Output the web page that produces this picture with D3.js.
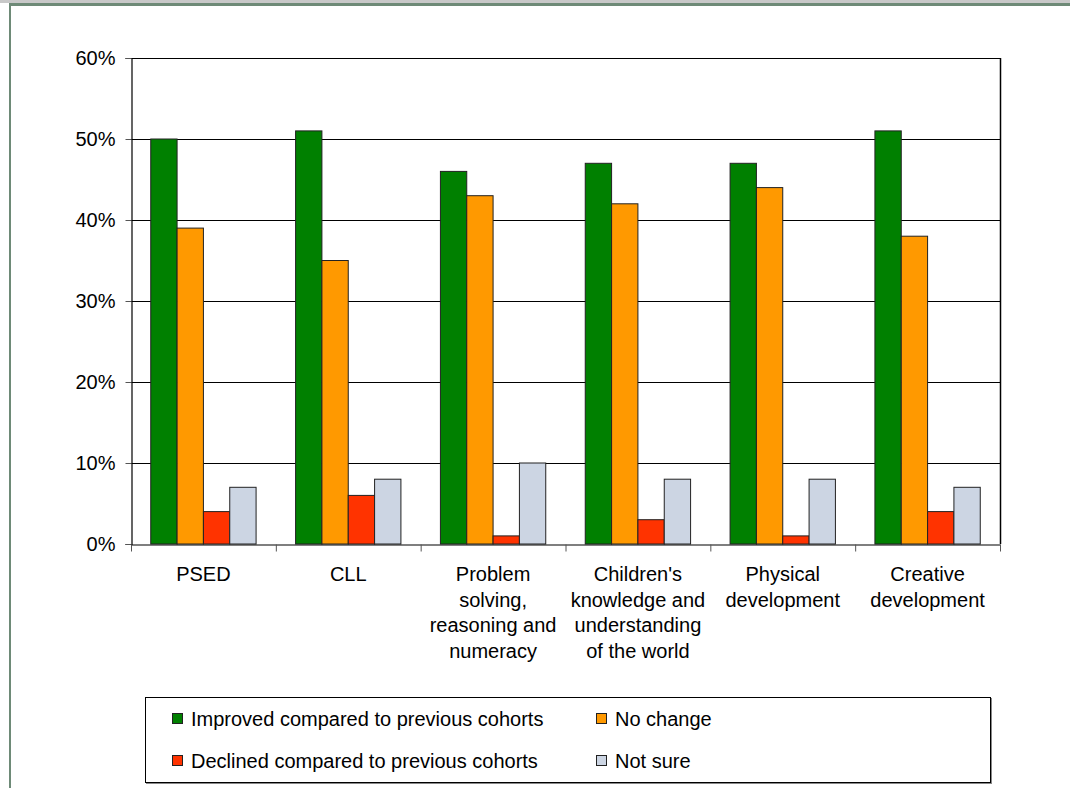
<!DOCTYPE html>
<html>
<head>
<meta charset="utf-8">
<script src="https://cdn.jsdelivr.net/npm/d3@7/dist/d3.min.js"></script>
<style>
  html, body { margin: 0; padding: 0; background: #fff; }
  svg { display: block; font-family: "Liberation Sans", Arial, sans-serif; }
</style>
</head>
<body>
<svg id="chart" width="1070" height="788"></svg>
<script>
// Areas of learning (x axis), each label split into lines
const categories = [
  ["PSED"],
  ["CLL"],
  ["Problem", "solving,", "reasoning and", "numeracy"],
  ["Children's", "knowledge and", "understanding", "of the world"],
  ["Physical", "development"],
  ["Creative", "development"]
];
const seriesNames = [
  "Improved compared to previous cohorts",
  "No change",
  "Declined compared to previous cohorts",
  "Not sure"
];
const improved = [50, 51, 46, 47, 47, 51];
const noChange = [39, 35, 43, 42, 44, 38];
const declined = [4, 6, 1, 3, 1, 4];
const notSure  = [7, 8, 10, 8, 8, 7];
const yTicks = [0, 10, 20, 30, 40, 50, 60];
const colors = ["#008000", "#FF9900", "#FF3300", "#CCD5E3"];

const series = [improved, noChange, declined, notSure];
const FONT = 20;

const svg = d3.select("#chart");

// page frame
svg.append("rect").attr("x", 0).attr("y", 0).attr("width", 1070).attr("height", 3).attr("fill", "#C8C8C8");
svg.append("rect").attr("x", 9).attr("y", 3).attr("width", 1061).attr("height", 3).attr("fill", "#6E8A77");
svg.append("rect").attr("x", 9).attr("y", 3).attr("width", 2).attr("height", 785).attr("fill", "#6E8A77");

const plot = { left: 131, top: 58, right: 1000, bottom: 544 };

const x0 = d3.scaleBand()
  .domain(d3.range(categories.length))
  .range([plot.left, plot.right])
  .paddingInner(0).paddingOuter(0);

const bw = x0.bandwidth() / 5.5;          // gap width 150% of a bar
const x1 = d3.scaleBand()
  .domain(d3.range(series.length))
  .range([0.75 * bw, 0.75 * bw + 4 * bw]);

const y = d3.scaleLinear().domain([0, 60]).range([plot.bottom, plot.top]);

// gridlines
svg.append("g").selectAll("line")
  .data(yTicks.filter(t => t > 0))
  .join("line")
  .attr("x1", plot.left).attr("x2", plot.right)
  .attr("y1", d => Math.round(y(d)) + 0.5).attr("y2", d => Math.round(y(d)) + 0.5)
  .attr("stroke", "#000").attr("stroke-width", 1);

// plot area border (right side)
svg.append("line")
  .attr("x1", plot.right + 0.5).attr("x2", plot.right + 0.5)
  .attr("y1", plot.top).attr("y2", plot.bottom)
  .attr("stroke", "#000").attr("stroke-width", 1.5);

// bars
const groups = svg.append("g").selectAll("g")
  .data(categories.map((c, i) => i))
  .join("g")
  .attr("transform", i => `translate(${x0(i)},0)`);

groups.selectAll("rect")
  .data(i => series.map((s, k) => ({ k, v: s[i] })))
  .join("rect")
  .attr("x", d => x1(d.k))
  .attr("width", x1.bandwidth())
  .attr("y", d => y(d.v))
  .attr("height", d => y(0) - y(d.v))
  .attr("fill", d => colors[d.k])
  .attr("stroke", "#222")
  .attr("stroke-width", 1);

// y axis
const yAxis = d3.axisLeft(y)
  .tickValues(yTicks)
  .tickFormat(d => d + "%")
  .tickSize(6)
  .tickPadding(10);
const gy = svg.append("g")
  .attr("transform", `translate(${plot.left + 0.5},0)`)
  .call(yAxis);
gy.attr("font-size", FONT).attr("font-family", "Liberation Sans, Arial, sans-serif");
gy.select(".domain").attr("stroke", "#000").attr("stroke-width", 1.2);
gy.selectAll(".tick line").attr("stroke", "#555");
gy.selectAll(".tick text").attr("font-size", FONT).attr("fill", "#000");

// x axis
const xEdges = d3.scaleLinear().domain([0, categories.length]).range([plot.left, plot.right]);
const xAxis = d3.axisBottom(xEdges)
  .tickValues(d3.range(categories.length + 1))
  .tickFormat("")
  .tickSize(7)
  .tickSizeOuter(0);
const gx = svg.append("g")
  .attr("transform", `translate(0,${plot.bottom + 0.5})`)
  .call(xAxis);
gx.select(".domain").attr("stroke", "#000").attr("stroke-width", 1.2);
gx.selectAll(".tick line").attr("stroke", "#555");

// category labels
const catLabels = svg.append("g").selectAll("text")
  .data(categories.map((c, i) => ({ c, i })))
  .join("text")
  .attr("x", d => x0(d.i) + x0.bandwidth() / 2)
  .attr("y", 581)
  .attr("text-anchor", "middle")
  .attr("font-size", FONT)
  .attr("fill", "#000");
catLabels.selectAll("tspan")
  .data(d => d.c.map((line, j) => ({ line, j, x: x0(d.i) + x0.bandwidth() / 2 })))
  .join("tspan")
  .attr("x", d => d.x)
  .attr("dy", d => d.j === 0 ? 0 : 25.7)
  .text(d => d.line);

// legend
const legend = svg.append("g");
legend.append("rect")
  .attr("x", 145.5).attr("y", 697.5)
  .attr("width", 845).attr("height", 85)
  .attr("fill", "#fff").attr("stroke", "#000").attr("stroke-width", 1);
legend.append("line")
  .attr("x1", 146).attr("x2", 991).attr("y1", 783.5).attr("y2", 783.5)
  .attr("stroke", "#888").attr("stroke-width", 1);
legend.append("line")
  .attr("x1", 991.5).attr("x2", 991.5).attr("y1", 698).attr("y2", 784)
  .attr("stroke", "#888").attr("stroke-width", 1);

const legendPos = [
  { x: 172, y: 719 },
  { x: 596, y: 719 },
  { x: 172, y: 761 },
  { x: 596, y: 761 }
];
const items = legend.selectAll("g.item")
  .data(seriesNames.map((name, k) => ({ name, k })))
  .join("g")
  .attr("class", "item")
  .attr("transform", d => `translate(${legendPos[d.k].x},${legendPos[d.k].y})`);
items.append("rect")
  .attr("x", 0.5).attr("y", -5.5)
  .attr("width", 10).attr("height", 10)
  .attr("fill", d => colors[d.k])
  .attr("stroke", "#222").attr("stroke-width", 1);
items.append("text")
  .attr("x", 19).attr("y", 7)
  .attr("font-size", FONT)
  .attr("fill", "#000")
  .text(d => d.name);
</script>
</body>
</html>
